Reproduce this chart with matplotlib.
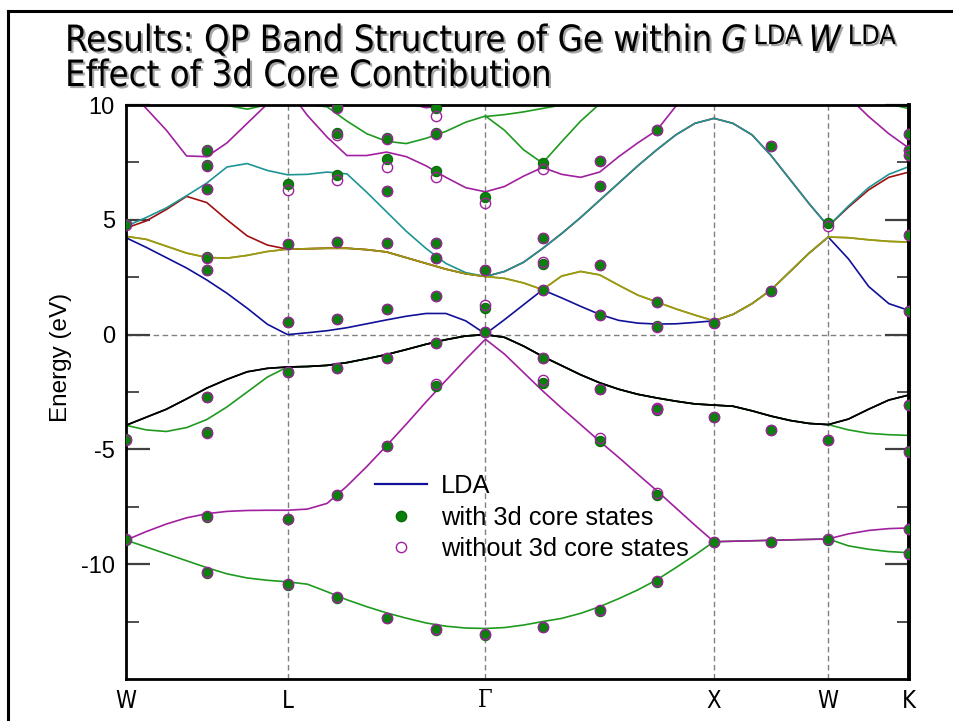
import numpy as np
import matplotlib
matplotlib.use('Agg')
import matplotlib.pyplot as plt
import matplotlib.patheffects as pe
from matplotlib.lines import Line2D

# ---------------- data ----------------
# high-symmetry path W-L-Gamma-X-W-K (segment lengths in 2pi/a)
SYM_LABELS = ['W', 'L', 'Γ', 'X', 'W', 'K']
SEG_LENGTHS = [0.7071, 0.8660, 1.0, 0.5, 0.3536]
SEG_DIV = [8, 10, 12, 6, 4]          # sampling intervals of the LDA curves per segment

# LDA bands sampled on the path grid (41 points)
BAND1 = [-8.95, -9.25, -9.55, -9.85, -10.15, -10.42, -10.6, -10.7, -10.77,
         -10.87, -11.2, -11.55, -11.85, -12.12, -12.35, -12.56, -12.7, -12.78, -12.8,
         -12.76, -12.65, -12.5, -12.36, -12.14, -11.85, -11.5, -11.12, -10.68, -10.15, -9.6, -9.02,
         -9.0, -8.98, -8.96, -8.94, -8.92, -8.9,
         -9.2, -9.35, -9.45, -9.5]
BAND2 = [-8.95, -8.58, -8.25, -7.98, -7.8, -7.7, -7.66, -7.65, -7.65,
         -7.6, -7.35, -6.6, -5.75, -4.84, -3.9, -2.93, -2.0, -1.08, -0.2,
         -0.85, -1.65, -2.45, -3.2, -3.92, -4.65, -5.35, -6.08, -6.8, -7.55, -8.3, -9.02,
         -9.0, -8.98, -8.96, -8.94, -8.92, -8.9,
         -8.68, -8.53, -8.45, -8.42]
BAND3 = [-3.95, -4.15, -4.22, -4.05, -3.7, -3.15, -2.5, -1.85, -1.41,
         -1.39, -1.34, -1.22, -1.05, -0.87, -0.65, -0.42, -0.22, -0.06, 0.0,
         -0.12, -0.5, -0.95, -1.35, -1.75, -2.1, -2.38, -2.6, -2.76, -2.9, -3.02, -3.07,
         -3.12, -3.32, -3.55, -3.74, -3.87, -3.92,
         -4.15, -4.3, -4.36, -4.39]
BAND4 = [-3.95, -3.6, -3.25, -2.8, -2.33, -1.95, -1.62, -1.47, -1.41,
         -1.39, -1.34, -1.22, -1.05, -0.87, -0.65, -0.42, -0.22, -0.06, 0.0,
         -0.12, -0.5, -0.95, -1.35, -1.75, -2.1, -2.38, -2.6, -2.76, -2.9, -3.02, -3.07,
         -3.12, -3.32, -3.55, -3.74, -3.87, -3.92,
         -3.68, -3.25, -2.85, -2.63]
BAND5 = [4.22, 3.8, 3.35, 2.9, 2.38, 1.8, 1.15, 0.45, 0.0,
         0.08, 0.17, 0.3, 0.47, 0.64, 0.8, 0.92, 0.92, 0.6, 0.03,
         0.65, 1.3, 1.95, 1.6, 1.23, 0.88, 0.62, 0.5, 0.46, 0.47, 0.53, 0.6,
         0.88, 1.35, 1.95, 2.75, 3.55, 4.25,
         3.3, 2.1, 1.35, 1.05]
BAND6 = [4.28, 4.15, 3.85, 3.55, 3.36, 3.33, 3.45, 3.62, 3.72,
         3.74, 3.76, 3.76, 3.7, 3.6, 3.35, 3.1, 2.85, 2.65, 2.53,
         2.45, 2.25, 1.96, 2.55, 2.75, 2.6, 2.15, 1.72, 1.42, 1.12, 0.85, 0.6,
         0.88, 1.35, 1.95, 2.75, 3.55, 4.25,
         4.22, 4.13, 4.06, 4.03]
BAND7 = [4.64, 4.95, 5.45, 6.02, 5.75, 5.0, 4.3, 3.9, 3.72,
         3.74, 3.76, 3.76, 3.7, 3.6, 3.35, 3.1, 2.85, 2.65, 2.53,
         2.75, 3.15, 3.75, 4.4, 5.1, 5.85, 6.6, 7.35, 8.05, 8.7, 9.2, 9.42,
         9.2, 8.7, 7.8, 6.75, 5.7, 4.72,
         5.55, 6.3, 6.85, 7.08]
BAND8 = [4.72, 5.1, 5.52, 6.05, 6.6, 7.3, 7.45, 7.15, 6.96,
         6.98, 7.08, 7.0, 6.2, 5.35, 4.5, 3.75, 3.1, 2.7, 2.53,
         2.75, 3.15, 3.75, 4.4, 5.1, 5.85, 6.6, 7.35, 8.05, 8.7, 9.2, 9.42,
         9.2, 8.7, 7.8, 6.75, 5.7, 4.72,
         5.6, 6.4, 6.98, 7.32]
NAN = np.nan
BAND9 = [10.8, 9.85, 8.9, 7.78, 7.75, 8.35, 9.2, 10.05, 10.7,
         9.55, 8.6, 7.8, 7.8, 7.95, 7.75, 7.35, 6.85, 6.4, 6.22,
         6.45, 6.9, 7.28, 6.98, 6.85, 7.08, 7.75, 8.35, 8.9, 9.95, 10.9, NAN,
         NAN, NAN, NAN, NAN, NAN, 11.0,
         10.35, 9.5, 8.75, 8.12]
BAND10 = [10.6, 10.45, 10.3, 10.2, 10.1, 9.98, 9.82, 10.01, 10.02,
          10.02, 9.92, 9.3, 8.75, 8.42, 8.32, 8.55, 8.85, 9.25, 9.52,
          8.9, 8.05, 7.47, 8.4, 9.3, 10.05, 10.8, NAN, NAN, NAN, NAN, NAN,
          NAN, NAN, NAN, NAN, NAN, NAN,
          NAN, NAN, NAN, NAN]
BAND11 = [NAN, NAN, NAN, NAN, NAN, NAN, NAN, NAN, NAN,
          NAN, NAN, NAN, NAN, NAN, NAN, NAN, NAN, NAN, 9.5,
          9.58, 9.7, 9.85, 10.0, 10.02, 10.02, 10.02, 10.02, 10.02, 10.02, 10.02, 10.02,
          10.02, 10.02, 10.02, 10.02, 10.02, 10.02,
          10.02, 10.02, 10.05, 9.84]
BAND12 = [NAN, NAN, NAN, NAN, NAN, NAN, NAN, NAN, NAN,
          NAN, NAN, NAN, NAN, NAN, 10.1, 9.88, 9.98, 10.3, NAN,
          NAN, NAN, NAN, NAN, NAN, NAN, NAN, NAN, NAN, NAN, NAN, NAN,
          NAN, NAN, NAN, NAN, NAN, NAN,
          NAN, NAN, NAN, NAN]

BAND_LIST = [BAND1, BAND2, BAND3, BAND4, BAND5, BAND6, BAND7, BAND8, BAND9, BAND10, BAND11, BAND12]
BAND_COLORS = ['#1f9a1f', '#a020a0', '#1f9a1f', '#000000', '#101098', '#9a9a14',
               '#a01010', '#1e9494', '#a020a0', '#1f9a1f', '#1f9a1f', '#a020a0']

# QP energies at the k-points (columns along the path)
K_QP = [0.0, 0.3536, 0.7071, 0.9236, 1.1401, 1.3566, 1.5731,
        1.8231, 2.0731, 2.3231, 2.5731, 2.8231, 3.0731, 3.4267]
QP_WITH = [
    [4.8, -4.56, -8.93],
    [8.02, 7.37, 6.34, 3.36, 2.83, -2.73, -4.24, -7.94, -10.38],
    [6.56, 3.95, 0.56, -1.61, -8.03, -10.9],
    [9.92, 8.76, 6.97, 4.03, 0.69, -1.45, -6.98, -11.47],
    [8.55, 7.63, 6.27, 3.98, 1.11, -1.0, -4.84, -12.35],
    [9.85, 8.79, 7.13, 3.98, 3.34, 1.66, -0.35, -2.22, -12.85],
    [6.0, 2.81, 1.16, 0.11, -13.08],
    [7.46, 4.2, 3.09, 1.96, -1.01, -2.1, -12.72],
    [7.54, 6.49, 3.04, 0.87, -2.39, -4.64, -12.02],
    [8.91, 1.42, 0.36, -3.22, -3.3, -6.99, -10.78],
    [0.51, -3.6, -9.05],
    [8.23, 1.91, -4.16, -9.03],
    [4.86, -4.57, -8.93],
    [8.73, 8.05, 7.84, 4.32, 1.04, -3.08, -5.06, -8.45, -9.52],
]
QP_WITHOUT = [
    [4.76, -4.58, -8.91],
    [8.0, 7.35, 6.33, 3.33, 2.82, -2.72, -4.3, -7.92, -10.36],
    [6.29, 3.95, 0.56, -1.61, -8.03, -10.87],
    [9.88, 8.68, 6.73, 4.03, 0.69, -1.45, -6.98, -11.42],
    [8.5, 7.31, 6.27, 3.98, 1.11, -1.0, -4.84, -12.33],
    [9.53, 8.75, 6.85, 3.98, 3.34, 1.66, -0.35, -2.15, -12.82],
    [5.72, 2.81, 1.28, 0.11, -13.05],
    [7.2, 4.2, 3.16, 1.96, -1.01, -1.99, -12.72],
    [7.54, 6.49, 3.04, 0.87, -2.39, -4.52, -12.0],
    [8.91, 1.4, 0.33, -3.19, -3.25, -6.88, -10.75],
    [0.49, -3.6, -9.02],
    [8.23, 1.91, -4.16, -9.03],
    [4.72, -4.6, -8.9],
    [8.73, 8.05, 7.84, 4.32, 1.02, -3.08, -5.1, -8.45, -9.55],
]

LEGEND_LABELS = ['LDA', 'with 3d core states', 'without 3d core states']
TITLE_1 = 'Results: QP Band Structure of Ge within'
TITLE_SYMBOLS = ['G', 'W']
TITLE_SUP = 'LDA'
TITLE_2 = 'Effect of 3d Core Contribution'

# ---------------- derived path coordinates ----------------
K_SYM = np.concatenate([[0.0], np.cumsum(SEG_LENGTHS)])
k_parts = [np.linspace(K_SYM[0], K_SYM[1], SEG_DIV[0] + 1)]
for i in range(1, len(SEG_LENGTHS)):
    k_parts.append(np.linspace(K_SYM[i], K_SYM[i + 1], SEG_DIV[i] + 1)[1:])
K_LINE = np.concatenate(k_parts)

# ---------------- figure ----------------
W_PX, H_PX = 954, 721
fig = plt.figure(figsize=(W_PX / 100, H_PX / 100), dpi=100)
ax = fig.add_axes([126 / W_PX, 1 - 679 / H_PX, (909 - 126) / W_PX, (679 - 105) / H_PX])

for xv in K_SYM[1:-1]:
    ax.axvline(xv, color='#808080', lw=1.0, ls=(0, (4, 2.5)), zorder=1)
ax.axhline(0, color='#808080', lw=1.0, ls=(0, (4, 2.5)), zorder=1)

for band, col in zip(BAND_LIST, BAND_COLORS):
    ax.plot(K_LINE, band, color=col, lw=1.2, zorder=2)
ax.plot(K_LINE, BAND6, color=BAND_COLORS[5], lw=1.2, zorder=2)
ax.plot(K_LINE, BAND4, color='#000000', lw=1.2, zorder=2)

for kq, ew, eo in zip(K_QP, QP_WITH, QP_WITHOUT):
    ax.plot([kq] * len(ew), ew, ls='none', marker='o', ms=7.4, mfc='#0c800c',
            mec='#0a6a0a', mew=0.8, zorder=3)
    ax.plot([kq] * len(eo), eo, ls='none', marker='o', ms=7.4, mfc='none',
            mec='#a020a0', mew=1.0, zorder=4)

COND = dict(family='DejaVu Sans', fontstretch='condensed')

ax.set_xlim(K_SYM[0], K_SYM[-1])
ax.set_ylim(-15, 10)
ax.set_xticks(K_SYM)
ax.set_xticklabels(SYM_LABELS, fontsize=17, **COND)
ax.get_xticklabels()[2].set_family('DejaVu Serif')
ax.tick_params(axis='x', length=0, pad=7)
ax.set_yticks([-10, -5, 0, 5, 10])
ax.set_yticklabels(['-10', '-5', '0', '5', '10'])
ax.set_yticks([-12.5, -7.5, -2.5, 2.5, 7.5], minor=True)
ax.tick_params(axis='y', which='both', direction='in', left=True, right=True,
               color='#404040', labelsize=17, pad=8)
ax.tick_params(axis='y', which='major', length=17, width=1.6)
ax.tick_params(axis='y', which='minor', length=9, width=1.3)
for lab in ax.get_yticklabels():
    lab.set_family('Liberation Sans')
for sname, sp in ax.spines.items():
    sp.set_linewidth(2.0)
ax.spines['right'].set_linewidth(2.8)
ax.set_ylabel('Energy (eV)', family='Liberation Sans', fontsize=17.5)
ax.yaxis.set_label_coords(-0.069, 0.561)

handles = [Line2D([], [], color='#101098', lw=1.6),
           Line2D([], [], ls='none', marker='o', ms=7.4, mfc='#0c800c', mec='#0a6a0a'),
           Line2D([], [], ls='none', marker='o', ms=7.4, mfc='none', mec='#a020a0')]
leg = ax.legend(handles, LEGEND_LABELS, loc='upper left', bbox_to_anchor=(0.318, 0.357),
                frameon=False, borderpad=0, borderaxespad=0, handlelength=2.05,
                handletextpad=0.55, labelspacing=0.3,
                prop={'family': 'Liberation Sans', 'size': 18.3})

# ---------------- title (sized to the slide text width) ----------------
shadow = [pe.withSimplePatchShadow(offset=(1.5, -1.5), shadow_rgbFace='#909090', alpha=0.8)]
renderer = fig.canvas.get_renderer()
x0 = 65 / W_PX
t2 = fig.text(x0, 1 - 86 / H_PX, TITLE_2, fontsize=26, path_effects=shadow, **COND)
fs = 26 * 488 / t2.get_window_extent(renderer).width
t2.set_fontsize(fs)
t1 = fig.text(x0, 1 - 51 / H_PX, TITLE_1, fontsize=fs, path_effects=shadow, **COND)
x_px = 65 + t1.get_window_extent(renderer).width + 8
sup_fs = fs * 0.74
sup_rise = 0.73 * (fs - sup_fs) * 100 / 72
for sym in TITLE_SYMBOLS:
    ts = fig.text(x_px / W_PX, 1 - 51 / H_PX, sym, fontsize=fs, style='italic',
                  path_effects=shadow, **COND)
    x_px += ts.get_window_extent(renderer).width + 7
    tl = fig.text(x_px / W_PX, 1 - (51 - sup_rise) / H_PX, TITLE_SUP, fontsize=sup_fs,
                  path_effects=shadow, **COND)
    x_px += tl.get_window_extent(renderer).width + 7

# slide frame
fig.add_artist(Line2D([8 / W_PX, 8 / W_PX], [0, 1 - 11 / H_PX], color='black', lw=2.2,
                      transform=fig.transFigure))
fig.add_artist(Line2D([8 / W_PX, 1], [1 - 11 / H_PX, 1 - 11 / H_PX], color='black', lw=2.2,
                      transform=fig.transFigure))

fig.savefig('out.png', dpi=100)
